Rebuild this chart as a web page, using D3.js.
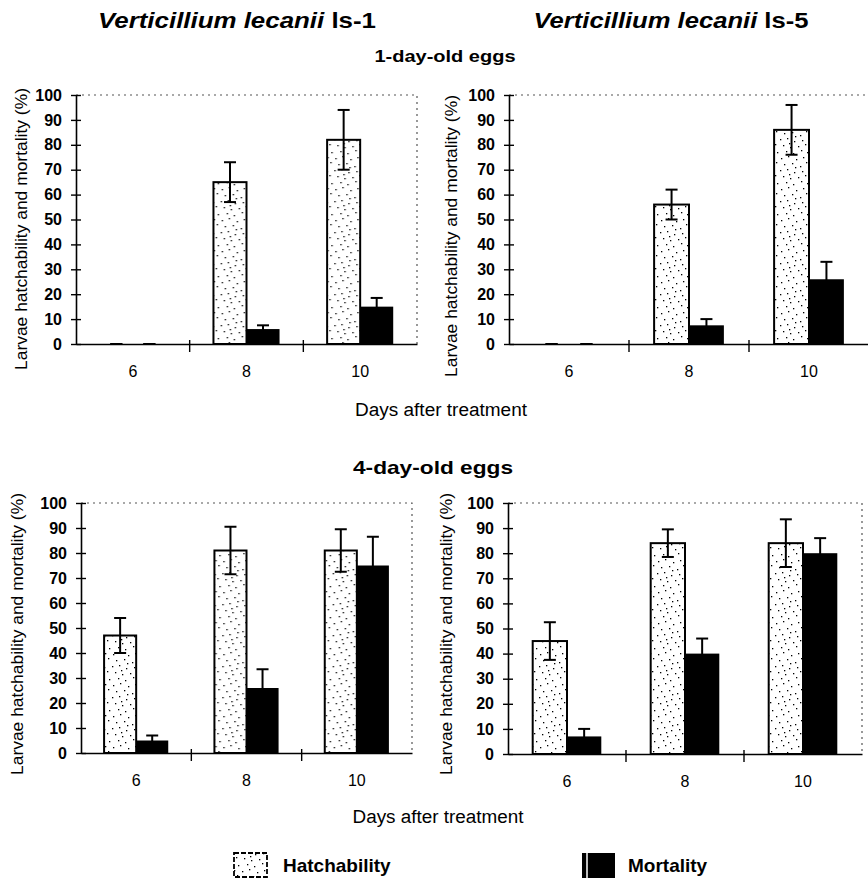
<!DOCTYPE html>
<html>
<head>
<meta charset="utf-8">
<script src="https://cdn.jsdelivr.net/npm/d3@7"></script>
<style>
  body { margin: 0; background: #fff; }
  text { font-family: "Liberation Sans", Arial, sans-serif; fill: #000; }
</style>
</head>
<body>
<script>
// values (%), mean and +/- error
const days = ['6', '8', '10'];

const ls1Day1Hatch = [0, 65, 82];
const ls1Day1HatchErr = [0, 8, 12];
const ls1Day1Mort = [0, 6, 15];
const ls1Day1MortErr = [0, 1.5, 3.5];

const ls5Day1Hatch = [0, 56, 86];
const ls5Day1HatchErr = [0, 6, 10];
const ls5Day1Mort = [0, 7.5, 26];
const ls5Day1MortErr = [0, 2.5, 7];

const ls1Day4Hatch = [47, 81, 81];
const ls1Day4HatchErr = [7, 9.5, 8.5];
const ls1Day4Mort = [5, 26, 75];
const ls1Day4MortErr = [2, 7.5, 11.5];

const ls5Day4Hatch = [45, 84, 84];
const ls5Day4HatchErr = [7.5, 5.5, 9.5];
const ls5Day4Mort = [7, 40, 80];
const ls5Day4MortErr = [3, 6, 6];

const yTicks = [0, 10, 20, 30, 40, 50, 60, 70, 80, 90, 100];
const yLabel = 'Larvae hatchability and mortality (%)';
const xLabel = 'Days after treatment';

const width = 868, height = 882;

const svg = d3.select('body').append('svg')
  .attr('width', width)
  .attr('height', height);

// stipple fill for the hatchability bars
const stippleDots = [[2,3],[9,1],[17,4],[24,2],[5,9],[13,8],[21,11],[27,7],[1,15],[8,14],
  [15,17],[23,16],[4,21],[11,23],[19,22],[26,20],[7,27],[14,29],[22,26],[28,28],[16,12],[10,19]];
const pat = svg.append('defs').append('pattern')
  .attr('id', 'stipple')
  .attr('patternUnits', 'userSpaceOnUse')
  .attr('width', 30).attr('height', 31);
pat.append('rect').attr('width', 30).attr('height', 31).attr('fill', '#fff');
pat.selectAll('rect.dot').data(stippleDots).enter().append('rect')
  .attr('class', 'dot')
  .attr('x', d => d[0]).attr('y', d => d[1])
  .attr('width', 1.3).attr('height', 1.3)
  .attr('fill', '#000');

const panels = [
  {x0: 76, x1: 417, yTop: 95, yBot: 344, labelX: 27, labelY: 229,
   hatch: ls1Day1Hatch, hatchErr: ls1Day1HatchErr, mort: ls1Day1Mort, mortErr: ls1Day1MortErr},
  {x0: 509, x1: 869, yTop: 95, yBot: 344, labelX: 457, labelY: 236,
   hatch: ls5Day1Hatch, hatchErr: ls5Day1HatchErr, mort: ls5Day1Mort, mortErr: ls5Day1MortErr},
  {x0: 81, x1: 412, yTop: 503, yBot: 753, labelX: 23, labelY: 634,
   hatch: ls1Day4Hatch, hatchErr: ls1Day4HatchErr, mort: ls1Day4Mort, mortErr: ls1Day4MortErr},
  {x0: 508, x1: 862, yTop: 503, yBot: 754, labelX: 452, labelY: 634,
   hatch: ls5Day4Hatch, hatchErr: ls5Day4HatchErr, mort: ls5Day4Mort, mortErr: ls5Day4MortErr}
];

function drawPanel(p){
  const x = d3.scaleBand().domain(days).range([p.x0, p.x1]);
  const xs = d3.scaleBand().domain(['hatch', 'mort'])
    .range([0, x.bandwidth()]).paddingOuter(0.72);
  const y = d3.scaleLinear().domain([0, 100]).range([p.yBot, p.yTop]);

  const g = svg.append('g');

  // dotted frame top and right
  g.append('path')
    .attr('d', `M${p.x0},${y(100)}H${p.x1}V${y(0)}`)
    .attr('fill', 'none')
    .attr('stroke', '#555')
    .attr('stroke-width', 1.2)
    .attr('stroke-dasharray', '2,4');

  const rows = days.map((d, i) => ({
    day: d, hatch: p.hatch[i], hatchErr: p.hatchErr[i], mort: p.mort[i], mortErr: p.mortErr[i]
  }));

  // bars
  const grp = g.selectAll('.grp').data(rows).enter().append('g')
    .attr('transform', d => `translate(${x(d.day)},0)`);

  grp.filter(d => d.hatch > 0).append('rect')
    .attr('x', xs('hatch'))
    .attr('y', d => y(d.hatch))
    .attr('width', xs.bandwidth())
    .attr('height', d => y(0) - y(d.hatch))
    .attr('fill', 'url(#stipple)')
    .attr('stroke', '#000')
    .attr('stroke-width', 2);

  grp.filter(d => d.mort > 0).append('rect')
    .attr('x', xs('mort'))
    .attr('y', d => y(d.mort))
    .attr('width', xs.bandwidth())
    .attr('height', d => y(0) - y(d.mort))
    .attr('fill', '#000');

  // error bars
  const cap = 6;
  ['hatch', 'mort'].forEach(k => {
    const cx = xs(k) + xs.bandwidth() / 2;
    const eb = grp.append('g').attr('stroke', '#000').attr('stroke-width', 2);
    eb.append('line')
      .attr('x1', cx).attr('x2', cx)
      .attr('y1', d => y(d[k] + d[k + 'Err']))
      .attr('y2', d => y(d[k] - d[k + 'Err']));
    eb.append('line')
      .attr('x1', cx - cap).attr('x2', cx + cap)
      .attr('y1', d => y(d[k] + d[k + 'Err']))
      .attr('y2', d => y(d[k] + d[k + 'Err']));
    eb.append('line')
      .attr('x1', cx - cap).attr('x2', cx + cap)
      .attr('y1', d => y(d[k] - d[k + 'Err']))
      .attr('y2', d => y(d[k] - d[k + 'Err']));
  });

  // y axis, ticks crossing the line
  const yAxis = g.append('g')
    .attr('transform', `translate(${p.x0},0)`)
    .call(d3.axisLeft(y).tickValues(yTicks).tickSize(5).tickSizeOuter(0).tickPadding(9));
  yAxis.select('.domain').attr('stroke-width', 1.6);
  yAxis.selectAll('.tick line').attr('x1', 5).attr('stroke-width', 1.4);
  yAxis.selectAll('.tick text')
    .style('font-family', '"Liberation Sans", Arial, sans-serif')
    .style('font-size', '16px')
    .style('font-weight', 'bold');

  // x axis
  const xAxis = g.append('g')
    .attr('transform', `translate(0,${y(0)})`)
    .call(d3.axisBottom(x).tickSize(0).tickSizeOuter(0).tickPadding(22));
  xAxis.select('.domain').attr('stroke-width', 1.6);
  xAxis.selectAll('.tick text')
    .style('font-family', '"Liberation Sans", Arial, sans-serif')
    .style('font-size', '16px');

  // separators between day groups
  g.selectAll('.sep').data(days.slice(1)).enter().append('line')
    .attr('x1', d => x(d)).attr('x2', d => x(d))
    .attr('y1', y(0) - 4).attr('y2', y(0) + 8)
    .attr('stroke', '#000').attr('stroke-width', 1.4);

  // y axis title
  g.append('text')
    .attr('transform', `translate(${p.labelX},${p.labelY}) rotate(-90)`)
    .attr('text-anchor', 'middle')
    .style('font-size', '17px')
    .attr('textLength', 282)
    .attr('lengthAdjust', 'spacingAndGlyphs')
    .text(yLabel);
}

panels.forEach(drawPanel);

// titles
function title(txt, italicPart, cx, base, size, len){
  const t = svg.append('text')
    .attr('x', cx).attr('y', base)
    .attr('text-anchor', 'middle')
    .attr('textLength', len)
    .attr('lengthAdjust', 'spacingAndGlyphs')
    .style('font-size', size + 'px')
    .style('font-weight', 'bold');
  if (italicPart) t.append('tspan').style('font-style', 'italic').text(italicPart);
  t.append('tspan').text(txt);
}

title('ls-1', 'Verticillium lecanii ', 237, 28, 22, 278);
title('ls-5', 'Verticillium lecanii ', 671, 28, 22, 275);
title('1-day-old eggs', null, 445, 62, 17, 141);
title('4-day-old eggs', null, 433, 474, 19, 160);

svg.append('text')
  .attr('x', 441).attr('y', 416)
  .attr('text-anchor', 'middle')
  .attr('textLength', 172).attr('lengthAdjust', 'spacingAndGlyphs')
  .style('font-size', '18px')
  .text(xLabel);

svg.append('text')
  .attr('x', 438).attr('y', 823)
  .attr('text-anchor', 'middle')
  .attr('textLength', 171).attr('lengthAdjust', 'spacingAndGlyphs')
  .style('font-size', '18px')
  .text(xLabel);

// legend
const legend = svg.append('g');
legend.append('rect')
  .attr('x', 234).attr('y', 853).attr('width', 33).attr('height', 24)
  .attr('fill', 'url(#stipple)')
  .attr('stroke', '#000').attr('stroke-width', 1.8)
  .attr('stroke-dasharray', '5,2');
legend.append('text')
  .attr('x', 283).attr('y', 872)
  .style('font-size', '19px').style('font-weight', 'bold')
  .text('Hatchability');

legend.append('rect')
  .attr('x', 582).attr('y', 853).attr('width', 33).attr('height', 25)
  .attr('fill', '#000');
legend.append('line')
  .attr('x1', 587).attr('x2', 587).attr('y1', 853).attr('y2', 878)
  .attr('stroke', '#fff').attr('stroke-width', 1.5);
legend.append('text')
  .attr('x', 628).attr('y', 872)
  .style('font-size', '19px').style('font-weight', 'bold')
  .text('Mortality');
</script>
</body>
</html>
